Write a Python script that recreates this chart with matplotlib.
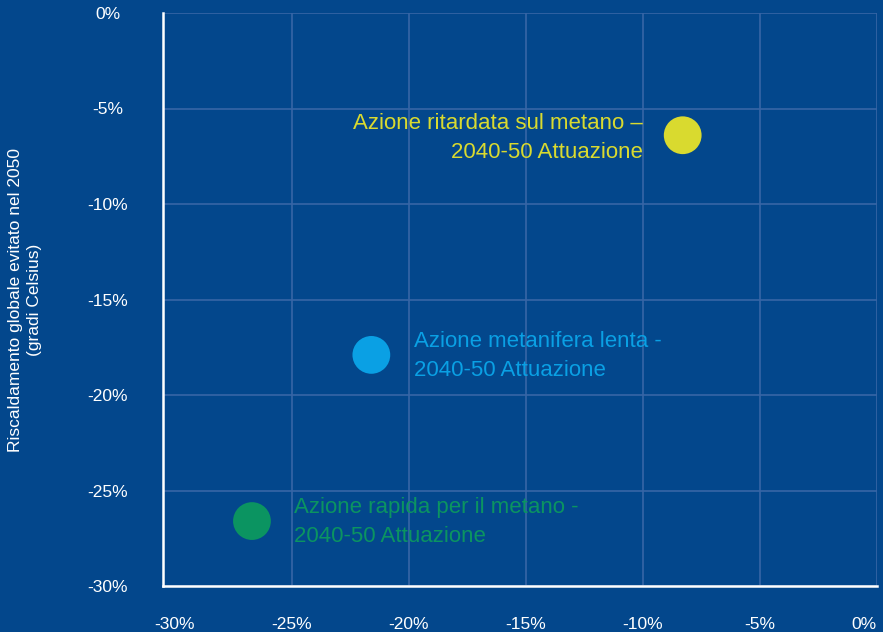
import matplotlib
matplotlib.use("Agg")
from matplotlib import pyplot as plt
import numpy as np

plt.rcParams['font.family'] = ['Liberation Sans', 'DejaVu Sans']

# data (percent)
labels = ["Azione ritardata sul metano –\n2040-50 Attuazione",
          "Azione metanifera lenta -\n2040-50 Attuazione",
          "Azione rapida per il metano -\n2040-50 Attuazione"]
x_vals = [-8.3, -21.6, -26.7]
y_vals = [-6.4, -17.9, -26.6]
colors = ['#d9da2f', '#0aa0e4', '#0b9461']
ticks = [-30, -25, -20, -15, -10, -5, 0]
tick_labels = ["-30%", "-25%", "-20%", "-15%", "-10%", "-5%", "0%"]

BG = '#03478c'
GRID = '#3766a6'

fig = plt.figure(figsize=(8.83, 6.32), dpi=100, facecolor=BG)
ax = fig.add_axes([163/883, 1-586/632, (877-163)/883, (586-13)/632])
ax.set_facecolor(BG)

ax.scatter(x_vals, y_vals, s=740, c=colors, zorder=3, linewidths=0)

# text next to each point
offsets = [(-29, -2, 'right'), (31, -1, 'left'), (30, -1, 'left')]
for lab, xv, yv, col, (dx, dy, ha) in zip(labels, x_vals, y_vals, colors, offsets):
    ax.annotate(lab, (xv, yv), xytext=(dx, dy), textcoords='offset points',
                ha=ha, va='center', color=col, fontsize=16, linespacing=1.5,
                multialignment=ha)

ax.set_xlim(-30.5, 0)
ax.set_ylim(-30, 0)
ax.set_xticks(ticks)
ax.set_xticklabels(tick_labels)
ax.set_yticks(ticks)
ax.set_yticklabels(tick_labels)
for t in ax.get_yticklabels():
    t.set_horizontalalignment('center')
ax.get_xticklabels()[-1].set_horizontalalignment('right')

ax.tick_params(axis='both', length=0, colors='white', labelsize=12.5)
ax.tick_params(axis='y', pad=40)
ax.tick_params(axis='x', pad=22)

ax.grid(True, color=GRID, linewidth=1.2)
ax.set_axisbelow(True)
ax.xaxis.get_gridlines()[0].set_visible(False)

for s in ['top', 'right']:
    ax.spines[s].set_visible(False)
for s in ['left', 'bottom']:
    ax.spines[s].set_color('white')
    ax.spines[s].set_linewidth(1.8)
    ax.spines[s].set_zorder(4)

fig.text(25/883, 1-300/632, "Riscaldamento globale evitato nel 2050\n(gradi Celsius)",
         rotation=90, ha='center', va='center', color='white', fontsize=12.5,
         linespacing=1.25)

fig.savefig("out.png", dpi=100, facecolor=BG)
